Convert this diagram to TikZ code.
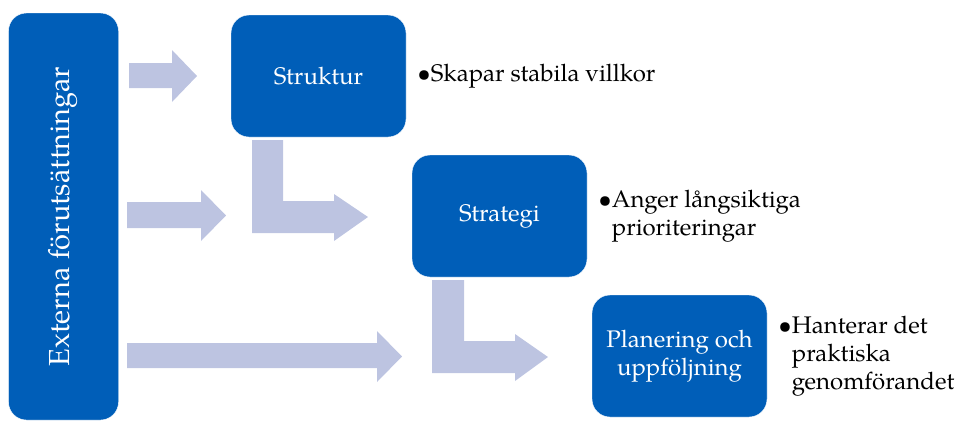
\documentclass[tikz,border=0pt]{standalone}
\usepackage{fontspec}
\setmainfont{TeX Gyre Pagella}
\usetikzlibrary{positioning}
\definecolor{boxblue}{RGB}{0,94,184}
\definecolor{arrowgray}{RGB}{189,196,225}

\begin{document}
\begin{tikzpicture}[x=1pt, y=-1pt, node distance=11pt,
		box/.style={rectangle, rounded corners=18pt, fill=boxblue, draw=white, text=white, align=center, inner sep=0pt, minimum width=175pt, minimum height=122pt, font=\fontsize{24}{28}\selectfont},
		note/.style={inner sep=0pt, font=\fontsize{24}{28}\selectfont},
		flow/.style={fill=arrowgray}]
			\useasboundingbox (0,0) rectangle (955,421);

			\node[box, rotate=90, minimum width=407pt, minimum height=110pt, font=\fontsize{29}{34}\selectfont] (ext) at (63.5,216.5) {Externa förutsättningar};
			\node[box] (struk) at (318.5,76) {Struktur};
			\node[box] (strat) at (499.5,216) {Strategi};
			\node[box] (plan) at (679.5,356) {Planering och\\uppföljning};

			\node[note] (strukn)[right = of struk] {\begin{tabular}{@{}l@{}l@{}}\textbullet & Skapar stabila villkor\end{tabular}};
			\node[note] (stratn)[right = of strat] {\begin{tabular}{@{}l@{}l@{}}\textbullet & Anger långsiktiga\\ & prioriteringar\end{tabular}};
			\node[note] (plann)[right = of plan] {\begin{tabular}{@{}l@{}l@{}}\textbullet & Hanterar det\\ & praktiska\\ & genomförandet\end{tabular}};

			% block arrows
			\path[flow] (129,63) -- (172,63) -- (172,50) -- (197,76) -- (172,102) -- (172,88) -- (129,88) -- cycle;
			\path[flow] (127,202) -- (201,202) -- (201,190) -- (226,215.5) -- (201,241) -- (201,228) -- (127,228) -- cycle;
			\path[flow] (127,343) -- (377,343) -- (377,331) -- (402,356.5) -- (377,382) -- (377,368) -- (127,368) -- cycle;
			\path[flow] (252,140) -- (283,140) -- (283,201) -- (334,201) -- (334,194) -- (368,217) -- (334,241) -- (334,233) -- (252,233) -- cycle;
			\path[flow] (432,280) -- (464,280) -- (464,341) -- (515,341) -- (515,334) -- (548,357) -- (515,381) -- (515,373) -- (432,373) -- cycle;
		\end{tikzpicture}
\end{document}
